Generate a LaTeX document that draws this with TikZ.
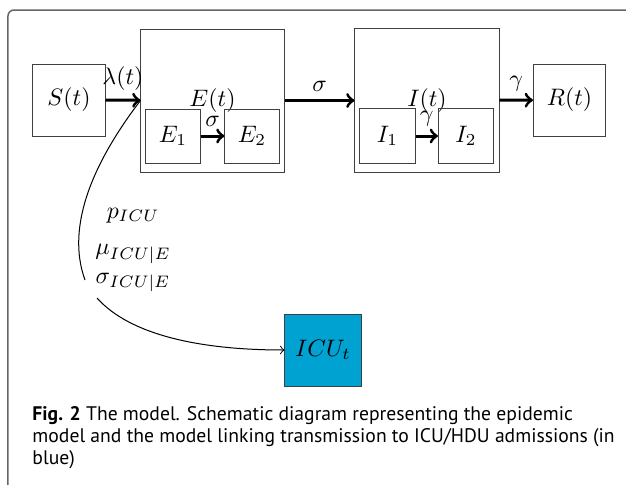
\documentclass[tikz,border=0pt]{standalone}
\usepackage{amsmath}
\usepackage{fontspec}
\newfontfamily\capfont{PT Sans}
\usepackage{tikz}
\usetikzlibrary{arrows}
\definecolor{icublue}{RGB}{0,162,210}

\begin{document}
\begin{tikzpicture}[x=0.42pt, y=-0.42pt,
		box/.style={draw=black!75, line width=0.42pt, inner sep=0pt, minimum size=#1},
		flow/.style={->, line width=1.26pt}]
		\useasboundingbox (0,0) rectangle (626,485);
		\clip (0,0) rectangle (626,485);
		\draw [black!60, line width=0.63pt, rounded corners=2.5pt] (8,495) -- (8,10) -- (635,10);

		% compartments
		\node [box=30.24pt] (S) at (69,100) {$S(t)$};
		\node [box=60.06pt] (E) at (212.5,100.5) {$E(t)$};
		\node [box=22.68pt] (E1) at (173,136) {$E_1$};
		\node [box=22.68pt] (E2) at (252,136) {$E_2$};
		\node [box=60.48pt] (I) at (427,100.5) {$I(t)$};
		\node [box=23.1pt] (I1) at (387.5,136) {$I_1$};
		\node [box=23.1pt] (I2) at (466,136) {$I_2$};
		\node [box=30.24pt] (R) at (569.5,100) {$R(t)$};
		\node [box=30.24pt, minimum width=31.92pt, fill=icublue] (ICU) at (323,350) {$ICU_t$};

		\draw [flow] (S) -- (E) node [midway, above] {$\lambda(t)$};
		\draw [flow] (E1) -- (E2) node [midway, above] {$\sigma$};
		\draw [flow] (E) -- (I) node [midway, above] {$\sigma$};
		\draw [flow] (I1) -- (I2) node [midway, above] {$\gamma$};
		\draw [flow] (I) -- (R) node [midway, above] {$\gamma$};

		% link to ICU
		\node [align=center] (par) at (133,250) {$p_{ICU}$\\[3.4pt] $\mu_{ICU|E}$\\ $\sigma_{ICU|E}$};
		\coordinate (cutA) at (85,280);
		\coordinate (cutB) at (97,298);
		\draw [line width=0.42pt] (E.west) .. controls (95,160) and (65,225) .. (cutA);
		\draw [->, line width=0.42pt] (cutB) .. controls (130,335) and (200,350) .. (ICU.west);

		\node [anchor=north west, align=left, inner sep=0pt, font=\capfont\fontsize{8.25}{9.24}\selectfont] (cap) at (32,406)
			{\textbf{Fig. 2} The model. Schematic diagram representing the epidemic\\
			model and the model linking transmission to ICU/HDU admissions (in\\
			blue)};
	\end{tikzpicture}
\end{document}
